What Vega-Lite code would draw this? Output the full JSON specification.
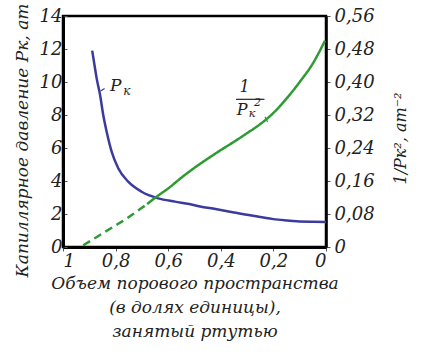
{
  "$schema": "https://vega.github.io/schema/vega-lite/v6.json",
  "width": 263,
  "height": 231,
  "autosize": "none",
  "padding": {"left": 63, "top": 16, "right": 95, "bottom": 107},
  "background": "white",
  "config": {
    "view": {"stroke": "black", "strokeWidth": 2.5},
    "font": "DejaVu Serif",
    "axis": {
      "grid": false,
      "domainColor": "black",
      "domainWidth": 3,
      "tickColor": "#555",
      "labelFont": "DejaVu Serif",
      "labelFontStyle": "italic",
      "labelFontSize": 18,
      "labelColor": "#222",
      "titleFont": "DejaVu Serif",
      "titleFontStyle": "italic",
      "titleFontWeight": "normal",
      "titleFontSize": 17,
      "titleColor": "#222"
    }
  },
  "datasets": {
    "pk": [
      {"x": 0.889, "P": 11.9},
      {"x": 0.88, "P": 11.0},
      {"x": 0.872, "P": 10.22},
      {"x": 0.859, "P": 9.21},
      {"x": 0.847, "P": 8.0},
      {"x": 0.834, "P": 6.99},
      {"x": 0.815, "P": 5.78},
      {"x": 0.79, "P": 4.77},
      {"x": 0.752, "P": 3.96},
      {"x": 0.701, "P": 3.35},
      {"x": 0.638, "P": 2.95},
      {"x": 0.574, "P": 2.75},
      {"x": 0.52, "P": 2.6},
      {"x": 0.479, "P": 2.46},
      {"x": 0.42, "P": 2.3},
      {"x": 0.365, "P": 2.14},
      {"x": 0.3, "P": 1.95},
      {"x": 0.25, "P": 1.82},
      {"x": 0.2, "P": 1.69},
      {"x": 0.15, "P": 1.61},
      {"x": 0.111, "P": 1.56},
      {"x": 0.05, "P": 1.53},
      {"x": 0.0, "P": 1.52}
    ],
    "inv": [
      {"x": 0.923, "v": 0.004, "seg": "dashed"},
      {"x": 0.87, "v": 0.025, "seg": "dashed"},
      {"x": 0.809, "v": 0.049, "seg": "dashed"},
      {"x": 0.76, "v": 0.068, "seg": "dashed"},
      {"x": 0.72, "v": 0.086, "seg": "dashed"},
      {"x": 0.68, "v": 0.104, "seg": "dashed"},
      {"x": 0.68, "v": 0.104, "seg": "solid"},
      {"x": 0.644, "v": 0.122, "seg": "solid"},
      {"x": 0.6, "v": 0.142, "seg": "solid"},
      {"x": 0.55, "v": 0.168, "seg": "solid"},
      {"x": 0.5, "v": 0.192, "seg": "solid"},
      {"x": 0.45, "v": 0.214, "seg": "solid"},
      {"x": 0.4, "v": 0.235, "seg": "solid"},
      {"x": 0.35, "v": 0.255, "seg": "solid"},
      {"x": 0.3, "v": 0.276, "seg": "solid"},
      {"x": 0.25, "v": 0.298, "seg": "solid"},
      {"x": 0.2, "v": 0.325, "seg": "solid"},
      {"x": 0.15, "v": 0.36, "seg": "solid"},
      {"x": 0.1, "v": 0.4, "seg": "solid"},
      {"x": 0.05, "v": 0.445, "seg": "solid"},
      {"x": 0.004, "v": 0.5, "seg": "solid"}
    ],
    "pkBig": [{"x": 0.8, "P": 9.75, "t": "P"}],
    "pkSmall": [{"x": 0.757, "P": 9.45, "t": "к"}],
    "pkLeader": [{"x": 0.857, "x2": 0.842, "P": 9.45, "P2": 9.6}],
    "invBig": [
      {"x": 0.31, "v": 0.388, "t": "1"},
      {"x": 0.319, "v": 0.331, "t": "P"}
    ],
    "invSmall": [
      {"x": 0.281, "v": 0.322, "t": "к"},
      {"x": 0.26, "v": 0.349, "t": "2"}
    ],
    "invBar": [{"x": 0.342, "x2": 0.234, "v": 0.358}],
    "invLeader": [{"x": 0.232, "x2": 0.222, "v": 0.316, "v2": 0.303}]
  },
  "encoding": {
    "x": {
      "field": "x",
      "type": "quantitative",
      "scale": {"domain": [0, 1], "reverse": true, "nice": false},
      "axis": {
        "values": [1, 0.8, 0.6, 0.4, 0.2, 0],
        "labelExpr": "replace(format(datum.value, '~g'), '.', ',')",
        "tickSize": 4,
        "labelPadding": 1,
        "title": ["Объем порового пространства", "(в долях единицы),", "занятый ртутью"],
        "titleLineHeight": 24,
        "titlePadding": 5
      }
    }
  },
  "layer": [
    {
      "encoding": {
        "y": {
          "field": "P",
          "type": "quantitative",
          "scale": {"domain": [0, 14], "nice": false},
          "axis": {
            "orient": "left",
            "values": [0, 2, 4, 6, 8, 10, 12, 14],
            "tickSize": -4,
            "labelPadding": 5,
            "title": "Капиллярное давление Pк, ат",
            "titlePadding": 8,
            "titleY": 124
          }
        }
      },
      "layer": [
        {
          "data": {"name": "pk"},
          "mark": {"type": "line", "color": "#3b3b9e", "strokeWidth": 2.5, "interpolate": "monotone"}
        },
        {
          "data": {"name": "pkBig"},
          "mark": {"type": "text", "font": "DejaVu Serif", "fontStyle": "italic", "fontSize": 17, "color": "#222"},
          "encoding": {"text": {"field": "t"}}
        },
        {
          "data": {"name": "pkSmall"},
          "mark": {"type": "text", "font": "DejaVu Serif", "fontStyle": "italic", "fontSize": 12, "color": "#222"},
          "encoding": {"text": {"field": "t"}}
        },
        {
          "data": {"name": "pkLeader"},
          "mark": {"type": "rule", "color": "#3b3b9e", "strokeWidth": 1.2},
          "encoding": {"x2": {"field": "x2"}, "y2": {"field": "P2"}}
        }
      ]
    },
    {
      "encoding": {
        "y": {
          "field": "v",
          "type": "quantitative",
          "scale": {"domain": [0, 0.56], "nice": false},
          "axis": {
            "orient": "right",
            "values": [0, 0.08, 0.16, 0.24, 0.32, 0.4, 0.48, 0.56],
            "labelExpr": "datum.value == 0 ? '0' : replace(format(datum.value, '.2f'), '.', ',')",
            "tickSize": 4,
            "labelPadding": 4,
            "domainWidth": 2.5,
            "title": "1/Pк², ат⁻²",
            "titleFontSize": 16,
            "titleAngle": 270,
            "titleX": 74,
            "titleY": 122,
            "titleBaseline": "middle"
          }
        }
      },
      "layer": [
        {
          "data": {"name": "inv"},
          "mark": {"type": "line", "color": "#2e9a32", "strokeWidth": 2.5, "interpolate": "monotone"},
          "encoding": {
            "strokeDash": {
              "field": "seg",
              "type": "nominal",
              "scale": {"domain": ["dashed", "solid"], "range": [[8, 5], [1, 0]]},
              "legend": null
            }
          }
        },
        {
          "data": {"name": "invBig"},
          "mark": {"type": "text", "font": "DejaVu Serif", "fontStyle": "italic", "fontSize": 16, "color": "#222"},
          "encoding": {"text": {"field": "t"}}
        },
        {
          "data": {"name": "invSmall"},
          "mark": {"type": "text", "font": "DejaVu Serif", "fontStyle": "italic", "fontSize": 11, "color": "#222"},
          "encoding": {"text": {"field": "t"}}
        },
        {
          "data": {"name": "invBar"},
          "mark": {"type": "rule", "color": "#222", "strokeWidth": 1.2},
          "encoding": {"x2": {"field": "x2"}}
        },
        {
          "data": {"name": "invLeader"},
          "mark": {"type": "rule", "color": "#2e9a32", "strokeWidth": 1.2},
          "encoding": {"x2": {"field": "x2"}, "y2": {"field": "v2"}}
        }
      ]
    }
  ],
  "resolve": {"scale": {"y": "independent", "strokeDash": "independent"}}
}
